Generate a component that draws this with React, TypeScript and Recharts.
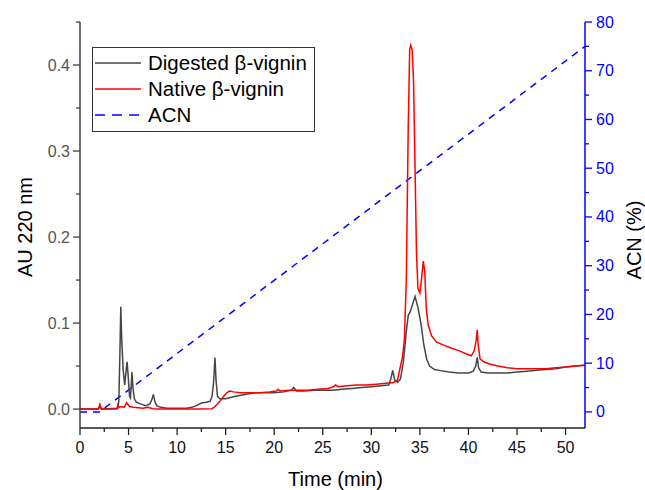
import { ComposedChart, Legend, Line, XAxis, YAxis } from "recharts";

// time (min) / absorbance pairs
const digested: [number, number][] = [
  [0, 0], [1.9, 0], [2.05, 0.003], [2.2, 0], [3.9, 0.001], [4.0, 0.01],
  [4.1, 0.06], [4.2, 0.119], [4.3, 0.08], [4.45, 0.045], [4.6, 0.028],
  [4.75, 0.045], [4.85, 0.055], [4.95, 0.04], [5.1, 0.015], [5.2, 0.013],
  [5.35, 0.043], [5.45, 0.025], [5.6, 0.012], [5.8, 0.008], [6.2, 0.006],
  [6.8, 0.004], [7.2, 0.006], [7.4, 0.011], [7.55, 0.017], [7.7, 0.009],
  [7.9, 0.004], [8.3, 0.002], [9, 0.001], [10, 0.001], [11, 0.001],
  [11.5, 0.002], [12, 0.004], [12.5, 0.007], [13, 0.008], [13.4, 0.009],
  [13.6, 0.015], [13.75, 0.03], [13.9, 0.06], [14.0, 0.035], [14.15, 0.015],
  [14.4, 0.012], [15, 0.012], [16, 0.015], [17, 0.017], [18, 0.019],
  [19, 0.019], [20, 0.019], [21, 0.02], [21.8, 0.022], [22.0, 0.025],
  [22.3, 0.021], [23, 0.021], [24, 0.022], [25, 0.022], [26, 0.022],
  [27, 0.023], [28, 0.024], [29, 0.025], [30, 0.026], [31, 0.027],
  [31.8, 0.028], [32.0, 0.035], [32.2, 0.045], [32.4, 0.034], [32.7, 0.031],
  [33.0, 0.035], [33.3, 0.055], [33.6, 0.09], [33.8, 0.109], [34.0, 0.113],
  [34.2, 0.12], [34.5, 0.131], [34.8, 0.118], [35.1, 0.1], [35.4, 0.075],
  [35.7, 0.058], [36.0, 0.05], [36.5, 0.046], [37, 0.045], [38, 0.043],
  [39, 0.042], [40, 0.042], [40.5, 0.044], [40.75, 0.05], [40.9, 0.06],
  [41.05, 0.048], [41.3, 0.043], [42, 0.042], [43, 0.042], [44, 0.042],
  [45, 0.043], [46, 0.044], [47, 0.045], [48, 0.046], [49, 0.047],
  [50, 0.049], [51, 0.05], [52, 0.051],
];

const native: [number, number][] = [
  [0, 0], [1.9, 0], [2.05, 0.0055], [2.2, 0], [3.8, 0], [3.9, 0.005],
  [4.0, 0.002], [4.3, 0.003], [4.55, 0.002], [4.8, 0.0075], [5.1, 0.003],
  [5.5, 0.002], [6.5, 0.001], [7.0, 0.002], [7.5, 0.0005], [8, 0], [10, 0],
  [12, 0], [13.6, 0.0005], [13.9, 0.003], [14.4, 0.009], [14.8, 0.015],
  [15.1, 0.019], [15.4, 0.021], [15.8, 0.02], [16.5, 0.019], [17.5, 0.019],
  [18.5, 0.019], [19.5, 0.02], [20.2, 0.021], [20.4, 0.023], [20.6, 0.021],
  [21.5, 0.022], [22.5, 0.022], [23.5, 0.022], [24.5, 0.023], [25.5, 0.024],
  [26.1, 0.026], [26.3, 0.028], [26.6, 0.026], [27.5, 0.027], [28.5, 0.028],
  [29.5, 0.028], [30.5, 0.029], [31.5, 0.03], [32.3, 0.031], [32.7, 0.034],
  [33.0, 0.05], [33.2, 0.06], [33.4, 0.08], [33.6, 0.15], [33.8, 0.33],
  [33.95, 0.418], [34.05, 0.423], [34.2, 0.418], [34.35, 0.38], [34.5, 0.28],
  [34.65, 0.18], [34.8, 0.14], [35.0, 0.135], [35.2, 0.155], [35.35, 0.172],
  [35.5, 0.16], [35.65, 0.118], [35.85, 0.098], [36.2, 0.085], [36.7, 0.078],
  [37.5, 0.074], [38.2, 0.071], [39, 0.068], [39.8, 0.064], [40.3, 0.062],
  [40.6, 0.068], [40.8, 0.08], [40.9, 0.092], [41.0, 0.075], [41.2, 0.058],
  [41.6, 0.055], [42, 0.053], [43, 0.05], [44, 0.048], [45, 0.047],
  [46, 0.047], [47, 0.047], [48, 0.047], [49, 0.048], [50, 0.049],
  [51, 0.05], [52, 0.051],
];

// gradient program, % acetonitrile
const acn: [number, number][] = [[0, 0], [2, 0], [52, 75]];

const timeTicks = [0, 2.5, 5, 7.5, 10, 12.5, 15, 17.5, 20, 22.5, 25, 27.5, 30, 32.5, 35, 37.5, 40, 42.5, 45, 47.5, 50];
const auTicks = [0, 0.05, 0.1, 0.15, 0.2, 0.25, 0.3, 0.35, 0.4, 0.45];
const acnTicks = [0, 5, 10, 15, 20, 25, 30, 35, 40, 45, 50, 55, 60, 65, 70, 75, 80];

const FONT = "'Liberation Sans', Arial, sans-serif";
const GRAY_AXIS = "#404040";
const BLUE = "#0000ff";

const legendItems = [
  { label: "Digested β-vignin", color: "#454545", dash: undefined },
  { label: "Native β-vignin", color: "#ff0000", dash: undefined },
  { label: "ACN", color: BLUE, dash: "10 7" },
];

const toRows = (pts: [number, number][]) => pts.map(([t, v]) => ({ t, v }));

const isMajor = (v: number, step: number) => Math.abs(v / step - Math.round(v / step)) < 1e-6;

function TimeTick(props: any) {
  const { x, y, payload } = props;
  const major = isMajor(payload.value, 5);
  return (
    <g>
      <line x1={x} y1={y} x2={x} y2={y + (major ? 7 : 4)} stroke="#222" strokeWidth={1.3} />
      {major && (
        <text x={x} y={y + 25} textAnchor="middle" fontSize={16} fill="#111" fontFamily={FONT}>
          {payload.value}
        </text>
      )}
    </g>
  );
}

function AuTick(props: any) {
  const { x, y, payload } = props;
  const major = isMajor(payload.value, 0.1);
  return (
    <g>
      <line x1={x} y1={y} x2={x - (major ? 7 : 4)} y2={y} stroke={GRAY_AXIS} strokeWidth={1.3} />
      {major && (
        <text x={x - 10} y={y + 5.5} textAnchor="end" fontSize={16} fill="#555" fontFamily={FONT}>
          {payload.value.toFixed(1)}
        </text>
      )}
    </g>
  );
}

function AcnTick(props: any) {
  const { x, y, payload } = props;
  const major = isMajor(payload.value, 10);
  return (
    <g>
      <line x1={x} y1={y} x2={x + (major ? 7 : 4)} y2={y} stroke={BLUE} strokeWidth={1.3} />
      {major && (
        <text x={x + 11} y={y + 5.5} textAnchor="start" fontSize={16} fill={BLUE} fontFamily={FONT}>
          {payload.value}
        </text>
      )}
    </g>
  );
}

function LegendBox() {
  return (
    <div
      style={{
        border: "1px solid #333",
        background: "#fff",
        padding: "2px 7px 3px 1px",
        fontFamily: FONT,
        fontSize: 20.5,
        color: "#000",
      }}
    >
      {legendItems.map((it) => (
        <div key={it.label} style={{ display: "flex", alignItems: "center", height: 26 }}>
          <svg width={48} height={10} style={{ marginRight: 6 }}>
            <line x1={1} y1={5} x2={47} y2={5} stroke={it.color} strokeWidth={1.5} strokeDasharray={it.dash} />
          </svg>
          <span>{it.label}</span>
        </div>
      ))}
    </div>
  );
}

export default function App() {
  return (
    <div style={{ position: "absolute", left: 0, top: 0, background: "#fff" }}>
      <ComposedChart width={645} height={490} margin={{ top: 22, right: 10, bottom: 12, left: 10 }}>
        <XAxis
          xAxisId="t"
          dataKey="t"
          type="number"
          domain={[0, 52]}
          allowDataOverflow
          ticks={timeTicks}
          interval={0}
          tickSize={0}
          tickMargin={0}
          height={50}
          tick={<TimeTick />}
          axisLine={{ stroke: "#222", strokeWidth: 1.5 }}
          label={{
            content: (p: any) => {
              const vb = p.viewBox;
              return (
                <text x={vb.x + vb.width / 2 + 3} y={vb.y + 58} textAnchor="middle" fontSize={20} fontFamily={FONT} fill="#000">
                  Time (min)
                </text>
              );
            },
          }}
        />
        <XAxis
          xAxisId="frame"
          orientation="top"
          type="number"
          domain={[0, 52]}
          height={0}
          tick={false}
          tickLine={false}
          axisLine={{ stroke: GRAY_AXIS, strokeWidth: 1.5 }}
        />
        <YAxis
          yAxisId="au"
          type="number"
          domain={[-0.022, 0.45]}
          allowDataOverflow
          ticks={auTicks}
          interval={0}
          tickSize={0}
          tickMargin={0}
          width={70}
          tick={<AuTick />}
          axisLine={{ stroke: GRAY_AXIS, strokeWidth: 1.5 }}
          label={{
            content: (p: any) => {
              const vb = p.viewBox;
              const cx = vb.x + 22;
              const cy = vb.y + vb.height / 2 + 2;
              return (
                <text x={cx} y={cy} transform={`rotate(-90, ${cx}, ${cy})`} textAnchor="middle" fontSize={20} fontFamily={FONT} fill="#000">
                  AU 220 nm
                </text>
              );
            },
          }}
        />
        <YAxis
          yAxisId="acn"
          orientation="right"
          type="number"
          domain={[-3.3, 80]}
          allowDataOverflow
          ticks={acnTicks}
          interval={0}
          tickSize={0}
          tickMargin={0}
          width={50}
          tick={<AcnTick />}
          axisLine={{ stroke: BLUE, strokeWidth: 1.5 }}
          label={{
            content: (p: any) => {
              const vb = p.viewBox;
              const cx = vb.x + 56;
              const cy = vb.y + vb.height / 2 + 15;
              return (
                <text x={cx} y={cy} transform={`rotate(-90, ${cx}, ${cy})`} textAnchor="middle" fontSize={20} fontFamily={FONT} fill="#000">
                  ACN (%)
                </text>
              );
            },
          }}
        />
        <Line
          xAxisId="t"
          yAxisId="acn"
          data={toRows(acn)}
          dataKey="v"
          type="linear"
          stroke={BLUE}
          strokeWidth={1.5}
          strokeDasharray="7 6"
          dot={false}
          activeDot={false}
          isAnimationActive={false}
        />
        <Line
          xAxisId="t"
          yAxisId="au"
          data={toRows(digested)}
          dataKey="v"
          type="linear"
          stroke="#454545"
          strokeWidth={1.5}
          dot={false}
          activeDot={false}
          isAnimationActive={false}
        />
        <Line
          xAxisId="t"
          yAxisId="au"
          data={toRows(native)}
          dataKey="v"
          type="linear"
          stroke="#ff0000"
          strokeWidth={1.5}
          dot={false}
          activeDot={false}
          isAnimationActive={false}
        />
        <Legend
          layout="vertical"
          align="center"
          verticalAlign="middle"
          content={() => <LegendBox />}
          wrapperStyle={{ left: 92, top: 47, width: "auto" }}
        />
      </ComposedChart>
    </div>
  );
}
